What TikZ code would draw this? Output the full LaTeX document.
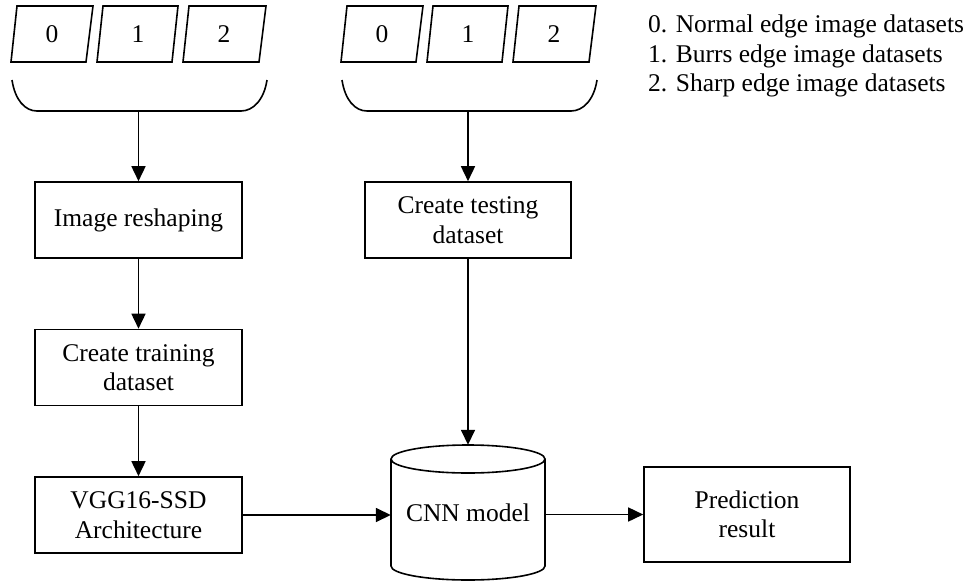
\documentclass[tikz,border=0pt]{standalone}
\usepackage{fontspec}
\setmainfont{Liberation Serif}
\usetikzlibrary{arrows.meta}
\begin{document}
\begin{tikzpicture}[x=1pt,y=-1pt,
  every node/.style={font=\fontsize{25.5}{29.5}\selectfont},
  ln/.style={line width=1.6pt, line join=miter},
  arr/.style={ln, -{Triangle[length=15pt,width=14pt]}},
  stepbox/.style={draw, line width=1.6pt, minimum width=207pt, minimum height=76pt, align=center, inner sep=0pt},
  lbl/.style={inner sep=0pt},
  leg/.style={anchor=base west, inner sep=0pt}]
\useasboundingbox (0,0) rectangle (967,584);

% left input group
\draw[ln] (17,6) -- (93,6) -- (86,62) -- (11,62) -- cycle;
\draw[ln] (103,6) -- (178,6) -- (172,62) -- (97,62) -- cycle;
\draw[ln] (189,6) -- (266,6) -- (259,62) -- (183,62) -- cycle;
\node[lbl] (l0) at (52,34) {0};
\node[lbl] (l1) at (138,34) {1};
\node[lbl] (l2) at (224,34) {2};
\draw[ln] (12,80) .. controls (15,100) and (25,111) .. (37,111) -- (241,111) .. controls (253,111) and (264,100) .. (267,80);
\coordinate (b1) at (138.5,111);

% right input group
\draw[ln] (347,6) -- (423,6) -- (416,62) -- (341,62) -- cycle;
\draw[ln] (433,6) -- (508,6) -- (502,62) -- (427,62) -- cycle;
\draw[ln] (519,6) -- (596,6) -- (589,62) -- (513,62) -- cycle;
\node[lbl] (r0) at (382,34) {0};
\node[lbl] (r1) at (468,34) {1};
\node[lbl] (r2) at (554,34) {2};
\draw[ln] (342,80) .. controls (345,100) and (355,111) .. (367,111) -- (571,111) .. controls (583,111) and (594,100) .. (597,80);
\coordinate (b2) at (468,111);

% legend
\node[leg] (leg0) at (648,32) {0. Normal edge image datasets};
\node[leg] (leg1) at (648,62) {1. Burrs edge image datasets};
\node[leg] (leg2) at (648,91.5) {2. Sharp edge image datasets};

% boxes
\node[stepbox] (reshape) at (138.5,220) {Image reshaping};
\node[stepbox] (train) at (138.5,367.5) {Create training\\dataset};
\node[stepbox] (vgg) at (138.5,515) {VGG16-SSD\\Architecture};
\node[stepbox, minimum width=206pt] (test) at (468,220) {Create testing\\dataset};
\node[stepbox, minimum width=206pt, minimum height=95pt] (pred) at (747,514.5) {Prediction\\result};

% cylinder
\node[inner sep=0pt, minimum width=154pt, minimum height=135pt] (cnn) at (468,512.5) {CNN model};
\draw[ln] (468,459) ellipse [x radius=77pt, y radius=14pt];
\draw[ln] (391,459) -- (391,566) arc[start angle=180, end angle=360, x radius=77pt, y radius=14pt] -- (545,459);

% connectors
\draw[arr] (b1) -- (reshape.north);
\draw[arr] (reshape.south) -- (train.north);
\draw[arr] (train.south) -- (vgg.north);
\draw[arr] (b2) -- (test.north);
\draw[arr] (test.south) -- (test.south |- cnn.north);
\draw[arr] (vgg.east) -- (vgg.east -| cnn.west);
\draw[arr] (pred.west -| cnn.east) -- (pred.west);
\end{tikzpicture}
\end{document}
